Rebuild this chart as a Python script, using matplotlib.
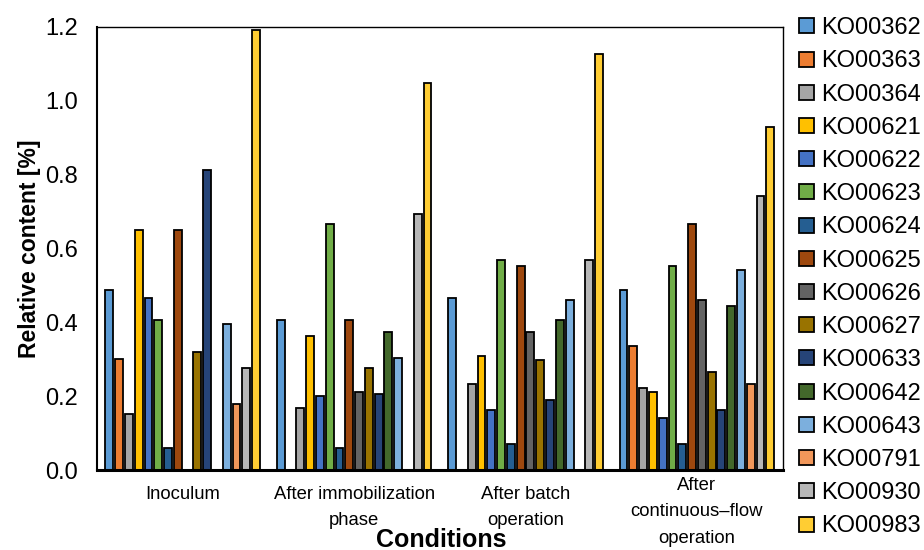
import numpy as np
import matplotlib.pyplot as plt

plt.rcParams['font.family'] = ['Liberation Sans', 'DejaVu Sans']

conditions = ['Inoculum', 'After immobilization\nphase', 'After batch\noperation',
              'After\ncontinuous\u2013flow\noperation']
kos = ['KO00362', 'KO00363', 'KO00364', 'KO00621', 'KO00622', 'KO00623', 'KO00624',
       'KO00625', 'KO00626', 'KO00627', 'KO00633', 'KO00642', 'KO00643', 'KO00791',
       'KO00930', 'KO00983']
colors = ['#5B9BD5', '#ED7D31', '#A5A5A5', '#FFC000', '#4472C4', '#70AD47', '#255E91',
          '#9E480E', '#636363', '#997300', '#264478', '#43682B', '#7CAFDD', '#F1975A',
          '#B7B7B7', '#FFCD33']

# rows = KO, columns = conditions
values = [
    [0.487, 0.406, 0.466, 0.487],  # KO00362
    [0.300, 0.0, 0.0, 0.336],      # KO00363
    [0.152, 0.169, 0.234, 0.222],  # KO00364
    [0.650, 0.364, 0.310, 0.211],  # KO00621
    [0.466, 0.201, 0.163, 0.141],  # KO00622
    [0.406, 0.666, 0.568, 0.553],  # KO00623
    [0.060, 0.061, 0.071, 0.071],  # KO00624
    [0.650, 0.406, 0.552, 0.666],  # KO00625
    [0.0, 0.212, 0.374, 0.461],    # KO00626
    [0.320, 0.277, 0.298, 0.265],  # KO00627
    [0.812, 0.206, 0.190, 0.163],  # KO00633
    [0.0, 0.375, 0.406, 0.444],    # KO00642
    [0.396, 0.304, 0.462, 0.541],  # KO00643
    [0.179, 0.0, 0.0, 0.234],      # KO00791
    [0.277, 0.693, 0.568, 0.742],  # KO00930
    [1.191, 1.048, 1.127, 0.930],  # KO00983
]

fig = plt.figure(figsize=(9.24, 5.5), dpi=100)
ax = fig.add_axes([0.105, 0.145, 0.742, 0.806])

x = np.arange(len(conditions))
pitch = 0.0571
w = 0.046
n = len(kos)
for i in range(n):
    off = (i - (n - 1) / 2) * pitch
    ax.bar(x + off, values[i], width=w, color=colors[i], edgecolor='black',
           linewidth=1.3, label=kos[i])

ax.set_xlim(-0.5, 3.5)
ax.set_ylim(0, 1.2)
ax.set_yticks(np.arange(0, 1.21, 0.2))
ax.set_yticklabels([f'{v:.1f}' for v in np.arange(0, 1.21, 0.2)], fontsize=17)
ax.set_xticks(x)
ax.set_xticklabels([''] * len(conditions))
ax.tick_params(axis='y', length=0, pad=14)
ax.tick_params(axis='x', length=0)

# category labels; the three-line one sits a little higher, as in the original
xt = ax.get_xaxis_transform()
for xi, lab in zip(x, conditions):
    y0 = -0.035 if lab.count('\n') < 2 else -0.016
    ax.text(xi, y0, lab, transform=xt, ha='center', va='top', fontsize=13.3,
            linespacing=1.7)

for side in ['top', 'right']:
    ax.spines[side].set_linewidth(1.0)
ax.spines['left'].set_linewidth(1.5)
ax.spines['bottom'].set_linewidth(2.2)

ax.set_ylabel('Relative content [%]', fontsize=16.5, fontweight='bold', labelpad=3)
fig.text(0.478, 0.006, 'Conditions', fontsize=18, fontweight='bold', ha='center')

fig.legend(loc='upper left', bbox_to_anchor=(0.855, 0.986), frameon=False,
           fontsize=17, handlelength=0.6, handleheight=0.6, handletextpad=0.3,
           labelspacing=0.475, borderaxespad=0)

fig.savefig('out.png', dpi=100)
